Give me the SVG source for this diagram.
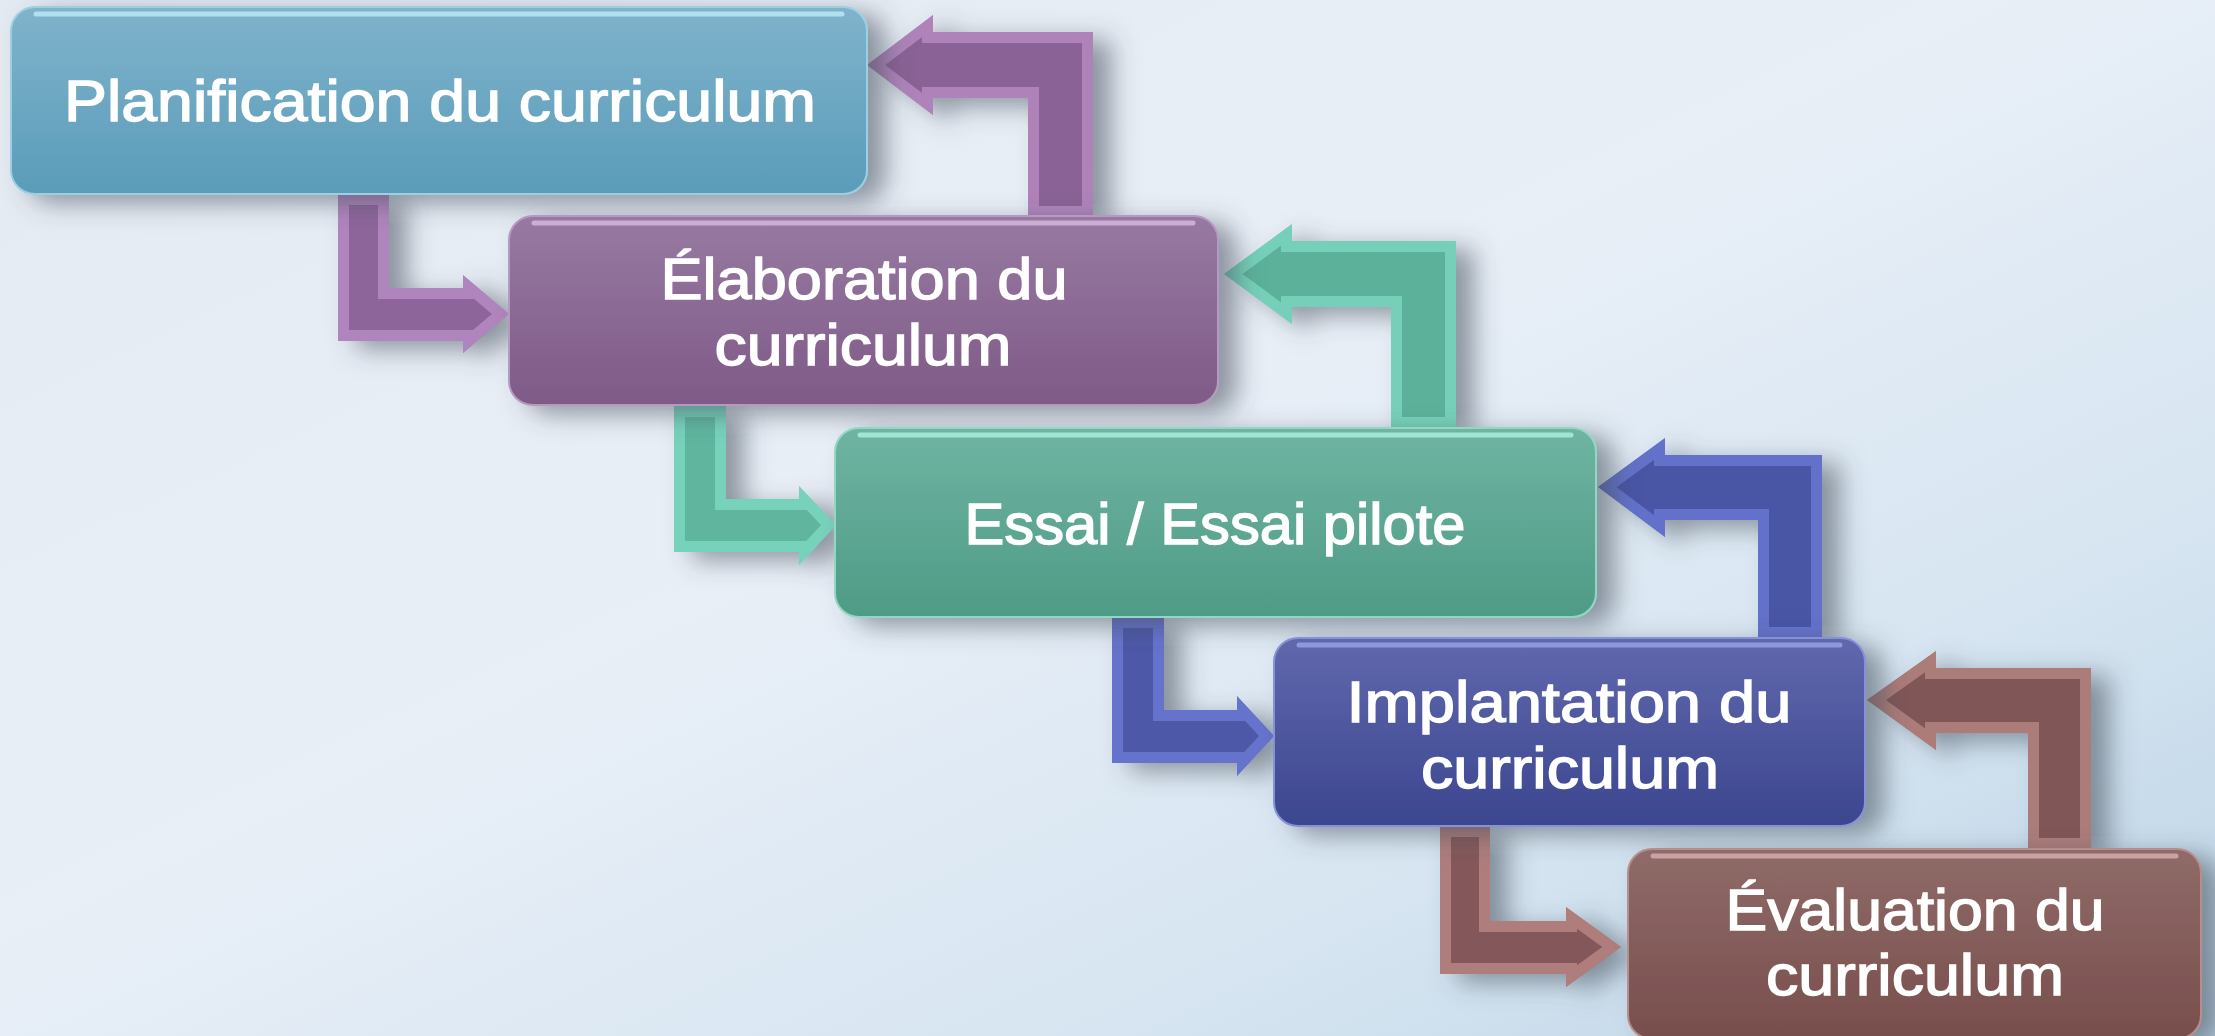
<svg xmlns="http://www.w3.org/2000/svg" xmlns:xlink="http://www.w3.org/1999/xlink" width="2215" height="1036" viewBox="0 0 2215 1036">
<defs>
<style>
.lbl{fill:#ffffff;stroke:#ffffff;stroke-width:1.4px;font-family:"Liberation Sans",Arial,sans-serif;font-size:58px;text-anchor:middle}
.gloss{fill:none;stroke-width:5;stroke-linecap:round;opacity:.7}
.bev{fill:none;stroke-width:22;stroke-linejoin:miter;opacity:.5}
</style>
<linearGradient id="bg" x1="0" y1="0" x2="1" y2="1">
<stop offset="0" stop-color="#e4eaf2"/>
<stop offset="0.45" stop-color="#e9eff7"/>
<stop offset="0.75" stop-color="#d6e5f1"/>
<stop offset="1" stop-color="#bcd3e6"/>
</linearGradient>
<linearGradient id="gBlue" x1="0" y1="0" x2="0" y2="1"><stop offset="0" stop-color="#80b3cc"/><stop offset="1" stop-color="#5a9cb9"/></linearGradient>
<linearGradient id="gPurple" x1="0" y1="0" x2="0" y2="1"><stop offset="0" stop-color="#977aa1"/><stop offset="1" stop-color="#7f5a88"/></linearGradient>
<linearGradient id="gGreen" x1="0" y1="0" x2="0" y2="1"><stop offset="0" stop-color="#6fb4a2"/><stop offset="1" stop-color="#4e9b86"/></linearGradient>
<linearGradient id="gNavy" x1="0" y1="0" x2="0" y2="1"><stop offset="0" stop-color="#6168ad"/><stop offset="1" stop-color="#3b468f"/></linearGradient>
<linearGradient id="gBrown" x1="0" y1="0" x2="0" y2="1"><stop offset="0" stop-color="#8f6b69"/><stop offset="1" stop-color="#784e4c"/></linearGradient>
<filter id="sh" x="-20%" y="-20%" width="150%" height="150%">
<feGaussianBlur in="SourceAlpha" stdDeviation="13"/>
<feOffset dx="18" dy="8" result="b"/>
<feFlood flood-color="#404a56" flood-opacity="0.55"/>
<feComposite in2="b" operator="in"/>
<feMerge><feMergeNode/><feMergeNode in="SourceGraphic"/></feMerge>
</filter>
<path id="pD1" d="M338,194 H389 V288 H463 V275 L509,314 L463,353 V341 H338 Z"/>
<path id="pU1" d="M1028,217 V98 H933 V115 L867,65 L933,15 V32 H1093 V217 Z"/>
<path id="pD2" d="M674,406 H726 V499 H799 V486 L836,525 L799,565 V552 H674 Z"/>
<path id="pU2" d="M1391,428 V307 H1292 V324 L1224,274 L1292,224 V241 H1456 V428 Z"/>
<path id="pD3" d="M1112,617 H1164 V710 H1237 V696 L1274,736 L1237,776 V763 H1112 Z"/>
<path id="pU3" d="M1758,638 V520 H1665 V537 L1598,487 L1665,438 V455 H1822 V638 Z"/>
<path id="pD4" d="M1440,826 H1490 V921 H1566 V907 L1621,947 L1566,987 V974 H1440 Z"/>
<path id="pU4" d="M2028,849 V733 H1936 V750 L1867,700 L1936,651 V668 H2091 V849 Z"/>
<clipPath id="cD1"><use xlink:href="#pD1"/></clipPath>
<clipPath id="cU1"><use xlink:href="#pU1"/></clipPath>
<clipPath id="cD2"><use xlink:href="#pD2"/></clipPath>
<clipPath id="cU2"><use xlink:href="#pU2"/></clipPath>
<clipPath id="cD3"><use xlink:href="#pD3"/></clipPath>
<clipPath id="cU3"><use xlink:href="#pU3"/></clipPath>
<clipPath id="cD4"><use xlink:href="#pD4"/></clipPath>
<clipPath id="cU4"><use xlink:href="#pU4"/></clipPath>
</defs>

<rect x="0" y="0" width="2215" height="1036" fill="url(#bg)"/>

<g id="connectors">
<g id="arrow-plan-elab" filter="url(#sh)"><use xlink:href="#pD1" fill="#8d659a"/><use xlink:href="#pD1" class="bev" stroke="#d4a3df" clip-path="url(#cD1)"/></g>
<g id="arrow-elab-plan" filter="url(#sh)"><use xlink:href="#pU1" fill="#8a6295"/><use xlink:href="#pU1" class="bev" stroke="#d4a3df" clip-path="url(#cU1)"/></g>
<g id="arrow-elab-essai" filter="url(#sh)"><use xlink:href="#pD2" fill="#5fb59e"/><use xlink:href="#pD2" class="bev" stroke="#90f0d7" clip-path="url(#cD2)"/></g>
<g id="arrow-essai-elab" filter="url(#sh)"><use xlink:href="#pU2" fill="#5cb19a"/><use xlink:href="#pU2" class="bev" stroke="#90f0d7" clip-path="url(#cU2)"/></g>
<g id="arrow-essai-impl" filter="url(#sh)"><use xlink:href="#pD3" fill="#4d58a8"/><use xlink:href="#pD3" class="bev" stroke="#7d8df0" clip-path="url(#cD3)"/></g>
<g id="arrow-impl-essai" filter="url(#sh)"><use xlink:href="#pU3" fill="#4a55a5"/><use xlink:href="#pU3" class="bev" stroke="#7d8df0" clip-path="url(#cU3)"/></g>
<g id="arrow-impl-eval" filter="url(#sh)"><use xlink:href="#pD4" fill="#84585a"/><use xlink:href="#pD4" class="bev" stroke="#d8a19c" clip-path="url(#cD4)"/></g>
<g id="arrow-eval-impl" filter="url(#sh)"><use xlink:href="#pU4" fill="#815657"/><use xlink:href="#pU4" class="bev" stroke="#d8a19c" clip-path="url(#cU4)"/></g>
</g>

<g id="node-planification" filter="url(#sh)">
<rect x="11" y="7" width="856" height="187" rx="24" fill="url(#gBlue)" stroke="#9ccfe2" stroke-width="2"/>
<path class="gloss" stroke="#c6f3fb" d="M36,14 H842"/>
<text class="lbl" x="440" y="121" textLength="752" lengthAdjust="spacingAndGlyphs">Planification du curriculum</text>
</g>

<g id="node-elaboration" filter="url(#sh)">
<rect x="509" y="216" width="709" height="189" rx="24" fill="url(#gPurple)" stroke="#b798c0" stroke-width="2"/>
<path class="gloss" stroke="#e2c4ea" d="M534,223 H1193"/>
<text class="lbl" x="864" y="299" textLength="407" lengthAdjust="spacingAndGlyphs">Élaboration du</text>
<text class="lbl" x="863" y="365" textLength="297" lengthAdjust="spacingAndGlyphs">curriculum</text>
</g>

<g id="node-essai" filter="url(#sh)">
<rect x="835" y="428" width="761" height="189" rx="24" fill="url(#gGreen)" stroke="#92d6c4" stroke-width="2"/>
<path class="gloss" stroke="#b5fbe8" d="M860,435 H1571"/>
<text class="lbl" x="1215" y="544" textLength="501" lengthAdjust="spacingAndGlyphs">Essai / Essai pilote</text>
</g>

<g id="node-implantation" filter="url(#sh)">
<rect x="1274" y="638" width="591" height="188" rx="24" fill="url(#gNavy)" stroke="#8791d6" stroke-width="2"/>
<path class="gloss" stroke="#a3aef3" d="M1299,645 H1840"/>
<text class="lbl" x="1569" y="722" textLength="445" lengthAdjust="spacingAndGlyphs">Implantation du</text>
<text class="lbl" x="1570" y="788" textLength="298" lengthAdjust="spacingAndGlyphs">curriculum</text>
</g>

<g id="node-evaluation" filter="url(#sh)">
<rect x="1628" y="849" width="573" height="190" rx="24" fill="url(#gBrown)" stroke="#b58f8c" stroke-width="2"/>
<path class="gloss" stroke="#e3bcb8" d="M1653,856 H2176"/>
<text class="lbl" x="1915" y="930" textLength="379" lengthAdjust="spacingAndGlyphs">Évaluation du</text>
<text class="lbl" x="1915" y="995" textLength="298" lengthAdjust="spacingAndGlyphs">curriculum</text>
</g>
</svg>
